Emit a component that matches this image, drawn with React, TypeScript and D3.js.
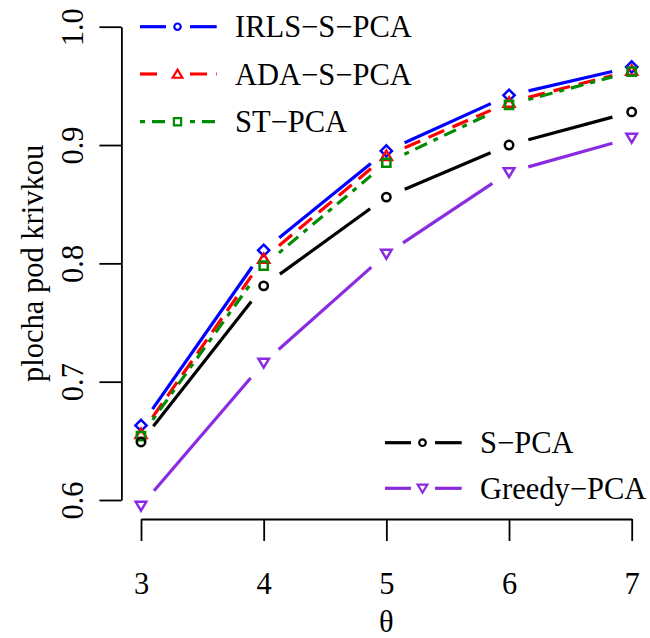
import React, { useEffect, useRef } from "react";
import * as d3 from "d3";

const theta = [3, 4, 5, 6, 7];
const irlsSPca = [0.663, 0.811, 0.895, 0.942, 0.966];
const adaSPca = [0.656, 0.804, 0.891, 0.936, 0.963];
const stPca = [0.654, 0.798, 0.885, 0.934, 0.962];
const sPca = [0.649, 0.781, 0.856, 0.9, 0.928];
const greedyPca = [0.595, 0.716, 0.808, 0.877, 0.906];
const yTicks = [0.6, 0.7, 0.8, 0.9, 1.0];

const FONT = "Liberation Serif, Times New Roman, Times, serif";
const FS = 30.5;
const LW = 3.2;

type Shape = "diamond" | "circle" | "triUp" | "square" | "triDown";

// marker path centred on 0,0
function markerPath(shape: Shape, s: number) {
  if (shape === "diamond") return `M0,${-s}L${s},0L0,${s}L${-s},0Z`;
  if (shape === "square") return `M${-s},${-s}H${s}V${s}H${-s}Z`;
  if (shape === "triUp") return `M0,${-s}L${s * 1.1},${s * 0.85}L${-s * 1.1},${s * 0.85}Z`;
  if (shape === "triDown") return `M0,${s}L${s * 1.1},${-s * 0.85}L${-s * 1.1},${-s * 0.85}Z`;
  return d3.arc()({ innerRadius: 0, outerRadius: s, startAngle: 0, endAngle: Math.PI * 2 }) as string;
}

export default function App() {
  const ref = useRef<SVGSVGElement>(null);

  useEffect(() => {
    const svg = d3.select(ref.current);
    svg.selectAll("*").remove();

    const x = d3.scaleLinear().domain([3, 7]).range([141, 631.7]);
    const y = d3.scaleLinear().domain([0.6, 1.0]).range([500, 26.7]);
    const axisY = 519;
    const axisX = 121.4;

    const series = [
      { name: "IRLS\u2212S\u2212PCA", values: irlsSPca, color: "#0000FF", dash: null, shape: "diamond" as Shape, size: 5.6, legShape: "circle" as Shape, legSize: 3.2 },
      { name: "ADA\u2212S\u2212PCA", values: adaSPca, color: "#FF0000", dash: "17 9", shape: "triUp" as Shape, size: 5, legShape: "triUp" as Shape, legSize: 4.4 },
      { name: "ST\u2212PCA", values: stPca, color: "#008B00", dash: "5 7 13 7", shape: "square" as Shape, size: 4.1, legShape: "square" as Shape, legSize: 3.6 },
      { name: "S\u2212PCA", values: sPca, color: "#000000", dash: null, shape: "circle" as Shape, size: 4.2, legShape: "circle" as Shape, legSize: 3.3 },
      { name: "Greedy\u2212PCA", values: greedyPca, color: "#8A2BE2", dash: null, shape: "triDown" as Shape, size: 4.8, legShape: "triDown" as Shape, legSize: 4.4 },
    ];

    // x axis
    const gx = svg.append("g")
      .attr("transform", `translate(0,${axisY})`)
      .call(d3.axisBottom(x).tickValues(theta).tickSize(22).tickSizeOuter(0).tickFormat(d3.format("d")));
    gx.select(".domain").attr("stroke", "black").attr("stroke-width", 1.8);
    gx.selectAll(".tick line").attr("stroke", "black").attr("stroke-width", 1.8);
    gx.selectAll(".tick text").attr("y", 75).attr("dy", 0).attr("fill", "black");

    // y axis
    const gy = svg.append("g")
      .attr("transform", `translate(${axisX},0)`)
      .call(d3.axisLeft(y).tickValues(yTicks).tickSize(22).tickSizeOuter(0).tickFormat(d3.format(".1f")));
    gy.select(".domain").attr("stroke", "black").attr("stroke-width", 1.8);
    gy.selectAll(".tick line").attr("stroke", "black").attr("stroke-width", 1.8);
    gy.selectAll(".tick text")
      .attr("x", null).attr("dy", null)
      .attr("transform", `translate(${83 - axisX},0) rotate(-90)`)
      .attr("text-anchor", "middle")
      .attr("fill", "black");

    // axis titles
    svg.append("text")
      .attr("x", x(5)).attr("y", 632)
      .attr("text-anchor", "middle")
      .text("\u03b8");
    svg.append("text")
      .attr("transform", `translate(43,${(y(0.6) + y(1.0)) / 2}) rotate(-90)`)
      .attr("text-anchor", "middle")
      .text("plocha pod krivkou");

    // lines with gaps around points (type = "b")
    const gap = 20;
    series.forEach((s) => {
      const pts = s.values.map((v, i) => [x(theta[i]), y(v)]);
      const g = svg.append("g");
      for (let i = 0; i < pts.length - 1; i++) {
        const [x0, y0] = pts[i];
        const [x1, y1] = pts[i + 1];
        const len = Math.hypot(x1 - x0, y1 - y0);
        const ux = (x1 - x0) / len, uy = (y1 - y0) / len;
        g.append("line")
          .attr("x1", x0 + ux * gap).attr("y1", y0 + uy * gap)
          .attr("x2", x1 - ux * gap).attr("y2", y1 - uy * gap)
          .attr("stroke", s.color).attr("stroke-width", LW)
          .attr("stroke-dasharray", s.dash)
      }
      g.selectAll("path")
        .data(pts)
        .enter()
        .append("path")
        .attr("d", markerPath(s.shape, s.size))
        .attr("transform", (d) => `translate(${d[0]},${d[1]})`)
        .attr("fill", "none")
        .attr("stroke", s.color)
        .attr("stroke-width", 2.5);
    });

    // legends
    const legendItems = [
      { s: series[0], y: 26.7, x0: 140, tx: 235 },
      { s: series[1], y: 74, x0: 140, tx: 235 },
      { s: series[2], y: 121.7, x0: 140, tx: 235 },
      { s: series[3], y: 442.7, x0: 385, tx: 480 },
      { s: series[4], y: 488.3, x0: 385, tx: 480 },
    ];
    legendItems.forEach(({ s, y: ly, x0, tx }) => {
      const g = svg.append("g");
      [[x0, x0 + 26], [x0 + 50, x0 + 76.7]].forEach(([a, b]) => {
        g.append("line")
          .attr("x1", a).attr("x2", b).attr("y1", ly).attr("y2", ly)
          .attr("stroke", s.color).attr("stroke-width", LW)
          .attr("stroke-dasharray", s.dash);
      });
      g.append("path")
        .attr("d", markerPath(s.legShape, s.legSize))
        .attr("transform", `translate(${x0 + 37.5},${ly})`)
        .attr("fill", "none").attr("stroke", s.color).attr("stroke-width", 2.2);
      g.append("text")
        .attr("x", tx).attr("y", ly + 10.5)
        .text(s.name);
    });

    // one font for every text, set as style so the axis defaults do not win
    svg.selectAll("text")
      .style("font-family", FONT)
      .style("font-size", `${FS}px`);
  }, []);

  return (
    <svg
      ref={ref}
      width={650}
      height={638}
      style={{ position: "absolute", left: 0, top: 0, background: "white" }}
    />
  );
}
